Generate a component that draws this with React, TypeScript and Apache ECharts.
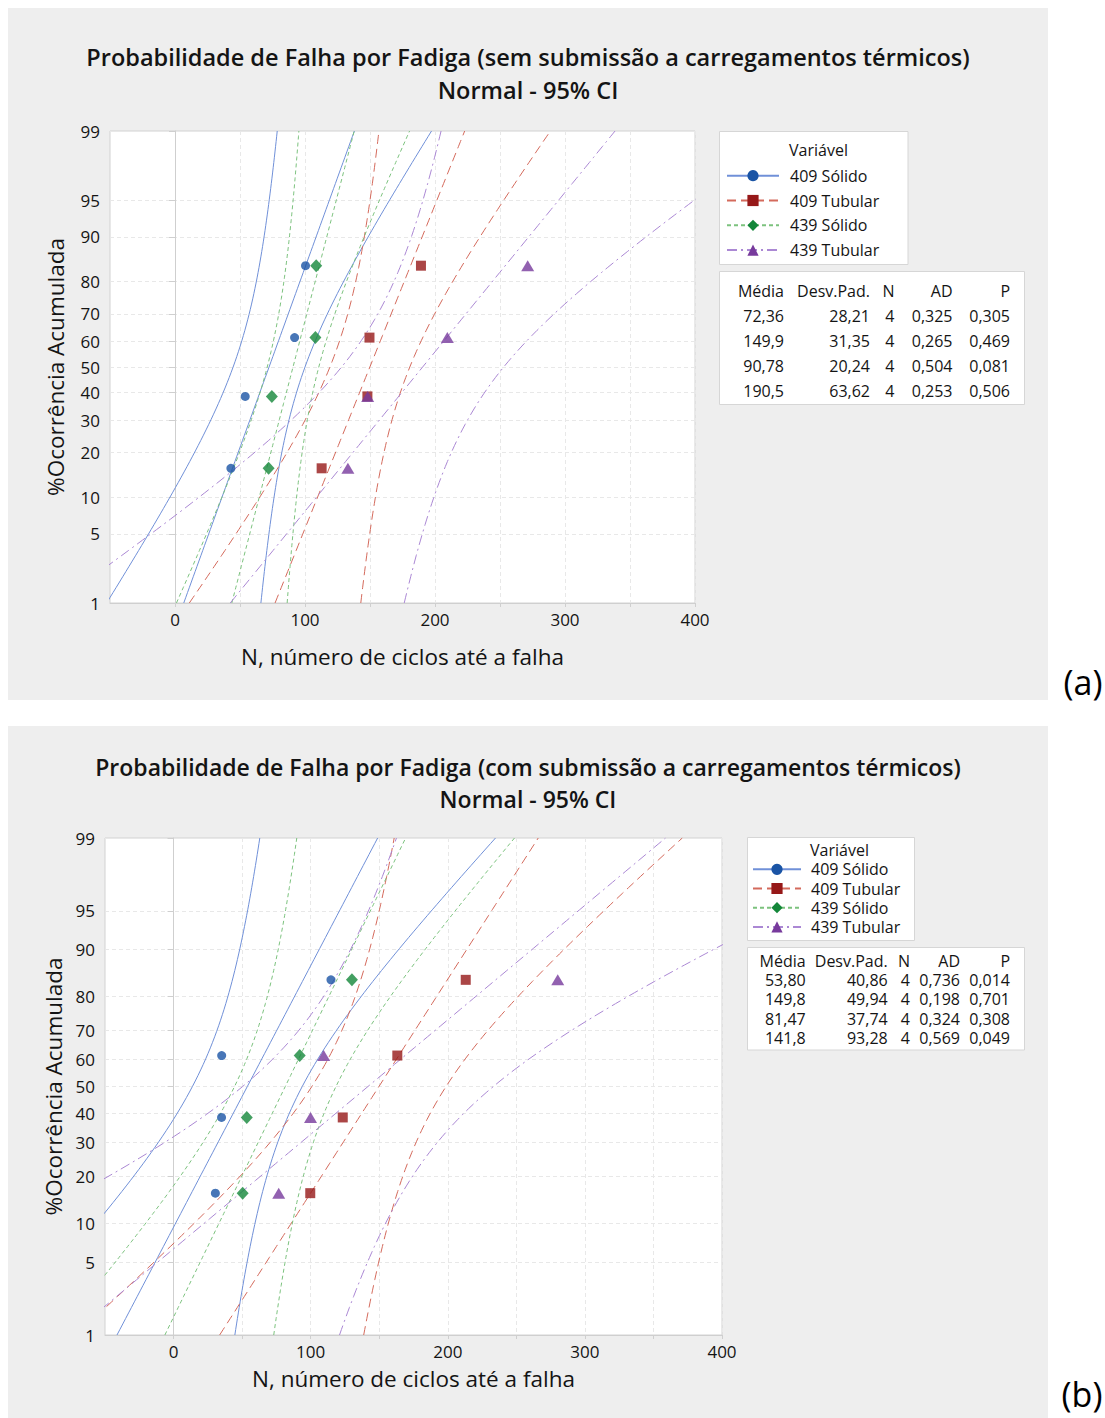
import React, { useEffect, useRef } from "react";
import * as echarts from "echarts";

// ---------------- data ----------------
const VARIABLES = ["409 Sólido", "409 Tubular", "439 Sólido", "439 Tubular"];
const RANK_PCT = [15.9, 38.6, 61.4, 84.1]; // plotted percentiles of the 4 ordered failures
const Y_TICKS = [1, 5, 10, 20, 30, 40, 50, 60, 70, 80, 90, 95, 99];
const X_LABELS = [0, 100, 200, 300, 400];
const X_GRID = [0, 50, 100, 150, 200, 250, 300, 350, 400];
const TABLE_HEADERS = ["Média", "Desv.Pad.", "N", "AD", "P"];

// Panel (a) – sem submissão a carregamentos térmicos
const A_TITLE = "Probabilidade de Falha por Fadiga (sem submissão a carregamentos térmicos)";
const A_409S = [43, 54, 92, 100.4];
const A_409T = [112.8, 148, 149.6, 189.2];
const A_439S = [72, 74.5, 108, 108.6];
const A_439T = [133, 148.2, 209.5, 271.3];
const A_MEAN = ["72,36", "149,9", "90,78", "190,5"];
const A_SD = ["28,21", "31,35", "20,24", "63,62"];
const A_N = [4, 4, 4, 4];
const A_AD = ["0,325", "0,265", "0,504", "0,253"];
const A_P = ["0,305", "0,469", "0,081", "0,506"];

// Panel (b) – com submissão a carregamentos térmicos
const B_TITLE = "Probabilidade de Falha por Fadiga (com submissão a carregamentos térmicos)";
const B_409S = [30.5, 35, 35.1, 114.8];
const B_409T = [99.7, 123.4, 163.2, 213.1];
const B_439S = [50.4, 53.4, 92, 130.1];
const B_439T = [76.7, 99.9, 109.5, 280.2];
const B_MEAN = ["53,80", "149,8", "81,47", "141,8"];
const B_SD = ["40,86", "49,94", "37,74", "93,28"];
const B_N = [4, 4, 4, 4];
const B_AD = ["0,736", "0,198", "0,324", "0,569"];
const B_P = ["0,014", "0,701", "0,308", "0,049"];

const SUBTITLE = "Normal - 95% CI";
const X_NAME = "N, número de ciclos até a falha";
const Y_NAME = "%Ocorrência Acumulada";

// ---------------- helpers ----------------
function probit(p: number): number {
  const a = [-3.969683028665376e1, 2.209460984245205e2, -2.759285104469687e2, 1.38357751867269e2, -3.066479806614716e1, 2.506628277459239];
  const b = [-5.447609879822406e1, 1.615858368580409e2, -1.556989798598866e2, 6.680131188771972e1, -1.328068155288572e1];
  const c = [-7.784894002430293e-3, -3.223964580411365e-1, -2.400758277161838, -2.549732539343734, 4.374664141464968, 2.938163982698783];
  const d = [7.784695709041462e-3, 3.224671290700398e-1, 2.445134137142996, 3.754408661907416];
  const pl = 0.02425;
  if (p < pl) {
    const q = Math.sqrt(-2 * Math.log(p));
    return (((((c[0] * q + c[1]) * q + c[2]) * q + c[3]) * q + c[4]) * q + c[5]) / ((((d[0] * q + d[1]) * q + d[2]) * q + d[3]) * q + 1);
  }
  if (p > 1 - pl) {
    const q = Math.sqrt(-2 * Math.log(1 - p));
    return -(((((c[0] * q + c[1]) * q + c[2]) * q + c[3]) * q + c[4]) * q + c[5]) / ((((d[0] * q + d[1]) * q + d[2]) * q + d[3]) * q + 1);
  }
  const q = p - 0.5;
  const r = q * q;
  return ((((((a[0] * r + a[1]) * r + a[2]) * r + a[3]) * r + a[4]) * r + a[5]) * q) / (((((b[0] * r + b[1]) * r + b[2]) * r + b[3]) * r + b[4]) * r + 1);
}
const num = (s: string) => parseFloat(s.replace(",", "."));
const Z_MIN = probit(0.01);
const Z_MAX = probit(0.99);
const Y_TICK_Z = Y_TICKS.map((p) => probit(p / 100));
const CURVE_STEPS = 90;

const FONT = "'Open Sans', 'Noto Sans', sans-serif";
const TXT = "#141414";

const STYLES: any[] = [
  { marker: "#1a54a5", line: "#7090d8", symbol: "circle", size: 9, dash: "solid" },
  { marker: "#961818", line: "#d46a5c", symbol: "rect", size: 10, dash: [9, 5] },
  { marker: "#14873a", line: "#7cc27e", symbol: "diamond", size: [12, 13], dash: [4, 3] },
  { marker: "#773a9c", line: "#ab88d4", symbol: "triangle", size: [13, 11], dash: [10, 4, 2, 4] },
];

const PANELS = [
  {
    title: A_TITLE,
    points: [A_409S, A_409T, A_439S, A_439T],
    mean: A_MEAN, sd: A_SD, n: A_N, ad: A_AD, p: A_P,
    bg: { x: 8, y: 8, w: 1040, h: 692 },
    titleY: 57, subY: 90, titleX: 528, titleSize: 23.5,
    grid: { left: 110, top: 131, width: 585, height: 472 },
    yNameGap: 43, xNameGap: 42,
    legendBox: { x: 719.5, y: 131.5, w: 188.5, h: 133 },
    legendTop: 167.7, legendLeft: 726, legendItemW: 52, legendGap: 8.8, legendPad: 6,
    headerX: 789, headerY: 150,
    tableBox: { x: 719.5, y: 271.5, w: 305, h: 133 },
    tableCols: [784, 870, 894.5, 952.5, 1010],
    tableTop: 290.7, tableStep: 25,
    tag: "(a)", tagX: 1083, tagY: 682,
  },
  {
    title: B_TITLE,
    points: [B_409S, B_409T, B_439S, B_439T],
    mean: B_MEAN, sd: B_SD, n: B_N, ad: B_AD, p: B_P,
    bg: { x: 8, y: 726, w: 1040, h: 692 },
    titleY: 767, subY: 798.5, titleX: 528, titleSize: 23,
    grid: { left: 105, top: 838, width: 617, height: 497 },
    yNameGap: 39, xNameGap: 32,
    legendBox: { x: 747.5, y: 837.5, w: 167, h: 103 },
    legendTop: 861.3, legendLeft: 752, legendItemW: 48, legendGap: 3.2, legendPad: 5,
    headerX: 810, headerY: 850,
    tableBox: { x: 747.5, y: 947.5, w: 277, h: 102.5 },
    tableCols: [805.7, 887.7, 910, 960, 1010],
    tableTop: 961, tableStep: 19.2,
    tag: "(b)", tagX: 1082, tagY: 1394,
  },
];

function buildOption() {
  const grids: any[] = [];
  const xAxes: any[] = [];
  const yAxes: any[] = [];
  const series: any[] = [];
  const legends: any[] = [];
  const graphics: any[] = [];

  PANELS.forEach((P, pi) => {
    grids.push({
      ...P.grid,
      show: true,
      backgroundColor: "#ffffff",
      borderColor: "#d2d2d2",
      borderWidth: 1,
    });
    xAxes.push({
      type: "value",
      gridIndex: pi,
      min: -50,
      max: 400,
      name: X_NAME,
      nameLocation: "middle",
      nameGap: P.xNameGap,
      nameTextStyle: { fontSize: 22.5, fontFamily: FONT, color: TXT },
      axisLine: { show: true, onZero: false, lineStyle: { color: "#cfcfcf" } },
      axisTick: { show: true, length: 4, customValues: X_GRID, lineStyle: { color: "#cfcfcf" } },
      axisLabel: {
        customValues: X_LABELS,
        fontSize: 17,
        fontFamily: FONT,
        color: TXT,
        margin: 8,
      },
      splitLine: { show: true, lineStyle: { color: "#e8e8e8", type: [4, 3] } },
    });
    yAxes.push({
      type: "value",
      gridIndex: pi,
      min: Z_MIN,
      max: Z_MAX,
      name: Y_NAME,
      nameLocation: "middle",
      nameGap: P.yNameGap,
      nameTextStyle: { fontSize: 22.5, fontFamily: FONT, color: TXT },
      axisLine: { show: true, lineStyle: { color: "#cfcfcf" } },
      axisTick: { show: true, length: 6, customValues: Y_TICK_Z, lineStyle: { color: "#cfcfcf" } },
      axisLabel: {
        customValues: Y_TICK_Z,
        fontSize: 17,
        fontFamily: FONT,
        color: TXT,
        margin: 10,
        formatter: (v: number) => {
          let best = 0;
          Y_TICK_Z.forEach((z, i) => {
            if (Math.abs(z - v) < Math.abs(Y_TICK_Z[best] - v)) best = i;
          });
          return String(Y_TICKS[best]);
        },
      },
      splitLine: { show: true, lineStyle: { color: "#e8e8e8", type: [4, 3] } },
    });

    VARIABLES.forEach((name, vi) => {
      const st = STYLES[vi];
      const m = num(P.mean[vi]);
      const s = num(P.sd[vi]);
      const n = P.n[vi];
      const fit: number[][] = [];
      const lo: number[][] = [];
      const hi: number[][] = [];
      for (let i = 0; i <= CURVE_STEPS; i++) {
        const z = Z_MIN + ((Z_MAX - Z_MIN) * i) / CURVE_STEPS;
        const x = m + s * z;
        const h = 1.96 * s * Math.sqrt(1 / n + (z * z) / (2 * (n - 1)));
        fit.push([x, z]);
        lo.push([x - h, z]);
        hi.push([x + h, z]);
      }
      const common = {
        type: "line",
        name,
        xAxisIndex: pi,
        yAxisIndex: pi,
        showSymbol: false,
        symbol: st.symbol,
        symbolSize: st.size,
        itemStyle: { color: st.marker },
        lineStyle: { color: st.line, width: 1, type: st.dash },
        silent: true,
        clip: true,
        z: 2,
      };
      series.push({ ...common, data: fit });
      series.push({ ...common, data: lo });
      series.push({ ...common, data: hi });
      series.push({
        type: "scatter",
        name,
        xAxisIndex: pi,
        yAxisIndex: pi,
        symbol: st.symbol,
        symbolSize: st.size,
        itemStyle: { color: st.marker },
        data: P.points[vi].map((x, k) => [x, probit(RANK_PCT[k] / 100)]),
        z: 5,
      });
    });

    legends.push({
      data: VARIABLES.map((name) => ({ name })),
      orient: "vertical",
      left: P.legendLeft,
      top: P.legendTop,
      itemWidth: P.legendItemW,
      itemHeight: 14,
      itemGap: P.legendGap,
      padding: 0,
      selectedMode: false,
      textStyle: { fontSize: 16, fontFamily: FONT, color: TXT, padding: [0, 0, 0, P.legendPad] },
    });

    // panel background
    graphics.push({
      type: "rect",
      shape: { x: P.bg.x, y: P.bg.y, width: P.bg.w, height: P.bg.h },
      style: { fill: "#eeeeee" },
      z: -20,
    });
    // title + subtitle (one two-line text)
    graphics.push({
      type: "text",
      x: P.titleX,
      y: (P.titleY + P.subY) / 2,
      style: {
        text: P.title + "\n" + SUBTITLE,
        fontSize: P.titleSize,
        lineHeight: P.subY - P.titleY,
        fontWeight: 600,
        fontFamily: FONT,
        fill: TXT,
        align: "center",
        verticalAlign: "middle",
      },
    });
    // legend box + header
    graphics.push({
      type: "rect",
      shape: { x: P.legendBox.x, y: P.legendBox.y, width: P.legendBox.w, height: P.legendBox.h },
      style: { fill: "#ffffff", stroke: "#d6d6d6", lineWidth: 1 },
      z: -5,
    });
    graphics.push({
      type: "text",
      x: P.headerX,
      y: P.headerY,
      style: { text: "Variável", fontSize: 16, lineHeight: 17, fontFamily: FONT, fill: TXT, align: "left", verticalAlign: "middle" },
    });
    // statistics table: one multi-line, right-aligned text per column
    graphics.push({
      type: "rect",
      shape: { x: P.tableBox.x, y: P.tableBox.y, width: P.tableBox.w, height: P.tableBox.h },
      style: { fill: "#ffffff", stroke: "#d6d6d6", lineWidth: 1 },
      z: -5,
    });
    const columns = [
      P.mean,
      P.sd,
      P.n.map((v) => String(v)),
      P.ad,
      P.p,
    ];
    TABLE_HEADERS.forEach((h, ci) => {
      const lines = [h, ...columns[ci]];
      graphics.push({
        type: "text",
        x: P.tableCols[ci],
        y: P.tableTop + (P.tableStep * (lines.length - 1)) / 2,
        style: {
          text: lines.join("\n"),
          fontSize: 16,
          lineHeight: P.tableStep,
          fontFamily: FONT,
          fill: TXT,
          align: "right",
          verticalAlign: "middle",
        },
      });
    });
    // panel tag
    graphics.push({
      type: "text",
      x: P.tagX,
      y: P.tagY,
      style: { text: P.tag, fontSize: 34, lineHeight: 38, fontFamily: FONT, fill: "#000", align: "center", verticalAlign: "middle" },
    });
  });

  return {
    animation: false,
    backgroundColor: "#ffffff",
    grid: grids,
    xAxis: xAxes,
    yAxis: yAxes,
    legend: legends,
    series,
    graphic: graphics,
  };
}

export default function App() {
  const ref = useRef<HTMLDivElement>(null);
  useEffect(() => {
    if (!ref.current) return;
    const chart = echarts.init(ref.current, undefined, { renderer: "svg" });
    chart.setOption(buildOption() as any);
    return () => chart.dispose();
  }, []);
  return (
    <div
      ref={ref}
      style={{ position: "absolute", left: 0, top: 0, width: 1105, height: 1418 }}
    />
  );
}
